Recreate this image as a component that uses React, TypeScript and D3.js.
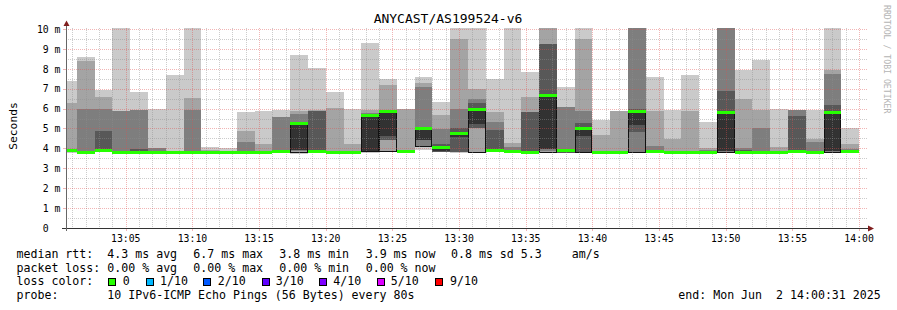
import React from 'react';
import * as d3 from 'd3';

const W = 897;
const H = 310;

// sorted round-trip times of the 10 pings per 80 s step (ms)
const ping1 = [3.78,3.76,3.8,3.72,3.79,3.77,3.77,3.77,3.78,3.78, 3.77,3.77,3.8,3.73,3.8,3.77,3.77,3.78,3.82,3.8, 3.9,3.8,3.75,3.8,3.82,3.8,3.8,3.75,3.76,3.8, 3.77,3.77,3.8,3.8,3.78,3.77,3.77,3.8,3.8,3.77, 3.77,3.8,3.78,3.8,3.8];
const ping2 = [3.8,3.78,3.82,3.78,3.8,3.78,3.78,3.78,3.79,3.79, 3.78,3.78,3.81,3.8,3.81,3.78,3.78,3.85,3.85,3.82, 4.12,3.82,3.83,3.83,3.84,3.81,3.81,3.82,3.77,3.81, 3.78,3.78,3.82,3.81,3.79,3.78,3.78,3.82,3.81,3.78, 3.78,3.81,3.79,3.82,3.81];
const ping3 = [3.85,3.79,3.83,3.79,3.8,3.79,3.78,3.79,3.8,3.8, 3.79,3.79,3.82,3.85,3.82,3.79,3.79,3.86,4.4,3.83, 4.12,3.83,3.83,5.0,3.85,3.82,3.82,3.85,3.78,3.82, 3.79,3.79,3.83,3.82,3.8,3.79,3.79,3.84,3.82,3.79, 3.79,3.82,3.8,3.84,3.82];
const ping4 = [3.86,3.8,3.84,3.8,3.81,3.8,3.79,3.79,3.8,3.8, 3.8,3.79,3.83,3.9,3.83,3.79,3.79,3.87,4.4,3.84, 4.42,3.84,3.83,5.0,3.86,3.83,3.83,3.95,3.79,3.83, 3.79,3.79,4.82,3.83,3.8,3.79,3.79,3.86,3.83,3.79, 3.79,3.83,3.8,3.86,3.83];
const ping5 = [3.87,3.8,3.86,3.81,3.82,3.8,3.79,3.8,3.81,3.81, 3.8,3.8,3.84,3.92,3.85,3.8,3.8,3.87,4.6,3.85, 4.42,3.86,4.55,5.23,3.88,3.84,3.84,3.98,3.8,4.62, 3.8,3.8,5.16,3.84,3.81,3.8,3.8,3.87,3.84,3.8, 3.8,3.84,3.81,3.87,3.84];
const ping6 = [3.9,3.82,3.9,3.82,3.85,3.8,3.8,3.8,3.83,3.83, 3.82,3.8,3.87,5.29,3.88,3.8,3.8,5.68,5.9,3.87, 5.0,4.05,4.77,6.0,3.92,3.86,3.86,6.7,3.9,5.03, 3.8,3.8,5.9,3.86,3.82,3.8,3.8,5.87,3.85,3.8, 3.8,3.86,3.82,5.87,3.88];
const ping7 = [3.9,3.85,4.87,3.84,3.98,3.88,3.8,3.84,3.84,3.84, 3.86,3.81,3.9,5.32,5.9,3.81,3.81,5.72,5.9,3.88, 5.03,4.2,5.05,6.3,4.94,3.9,5.83,9.27,3.95,5.26, 3.81,3.81,5.96,3.9,3.83,3.81,3.81,6.88,3.92,3.81, 3.81,5.63,3.86,6.2,3.92];
const ping8 = [3.9,5.96,5.96,5.88,5.91,4.03,3.8,5.95,3.86,3.84, 4.33,3.84,5.6,5.75,5.9,3.83,3.84,5.8,5.95,3.9, 7.09,4.95,5.96,6.48,5.34,4.08,5.83,9.27,6.1,5.9, 3.82,3.82,10.5,4.12,3.85,3.82,3.9,10.5,4.02,5.03, 3.85,5.93,4.34,7.76,3.98];
const ping9 = [6.3,8.4,6.58,5.88,5.91,4.03,3.82,6.53,3.9,3.86, 4.87,4.24,5.6,5.88,5.92,6.05,4.22,5.93,7.19,5.97, 7.29,5.68,9.5,6.98,5.84,4.25,6.58,10.4,6.1,9.48, 4.66,5.88,10.5,5.9,4.48,5.9,4.0,10.5,6.5,5.95, 4.07,5.93,4.47,7.96,4.23];
const ping10 = [7.4,8.6,6.93,10.4,6.83,5.96,7.7,10.4,4.08,4.04, 5.83,5.88,5.92,8.67,8.03,6.83,5.96,9.3,7.47,5.97, 7.59,6.35,10.4,10.4,7.48,10.4,7.84,10.6,7.09,10.4, 5.44,5.88,10.5,7.58,5.94,7.7,5.35,10.5,7.96,8.46, 5.96,5.93,5.93,10.5,5.0];
const medianRtt = [3.9,3.82,3.9,3.82,3.84,3.8,3.8,3.8,3.83,3.83, 3.8,3.8,3.88,5.29,3.88,3.8,3.8,5.68,5.9,3.88, 5.0,4.05,4.77,6.0,3.9,3.86,3.84,6.7,3.9,5.0, 3.8,3.8,5.9,3.85,3.82,3.8,3.8,5.85,3.84,3.8, 3.8,3.85,3.82,5.85,3.88];

const firstBinStart = new Date(2025, 5, 2, 13, 0, 0);
const stepSeconds = 80;
const viewStart = new Date(2025, 5, 2, 13, 0, 31);
const viewEnd = new Date(2025, 5, 2, 14, 0, 31);
const yMax = 10.05;

const titleText = 'ANYCAST/AS199524-v6';
const yAxisLabel = 'Seconds';
const watermark = 'RRDTOOL / TOBI OETIKER';

const statLabels = ['median rtt:', 'packet loss:', 'loss color:', 'probe:'];
const rttStats = ['4.3 ms avg', '6.7 ms max', '3.8 ms min', '3.9 ms now', '0.8 ms sd', '5.3', 'am/s'];
const lossStats = ['0.00 % avg', '0.00 % max', '0.00 % min', '0.00 % now'];
const lossColorLabels = ['0', '1/10', '2/10', '3/10', '4/10', '5/10', '9/10'];
const lossColors = ['#26ff00', '#00b8ff', '#0059ff', '#5e00ff', '#7e00ff', '#dd00ff', '#ff0000'];
const probeText = '10 IPv6-ICMP Echo Pings (56 Bytes) every 80s';
const endText = 'end: Mon Jun  2 14:00:31 2025';

const MONO = "'DejaVu Sans Mono', monospace";
const nb = (s: string) => s.replace(/ /g, '\u00a0');

export default function App() {
  const pings = [ping1, ping2, ping3, ping4, ping5, ping6, ping7, ping8, ping9, ping10];
  const n = medianRtt.length;
  const half = pings.length / 2;

  const left = 66, right = 866, top = 28, bottom = 228;
  const x = d3.scaleTime().domain([viewStart, viewEnd]).range([left, right]);
  const y = d3.scaleLinear().domain([0, yMax]).range([bottom, top]);

  const binStart = (k: number) => new Date(+firstBinStart + k * stepSeconds * 1000);

  // smoke bands (smokeping style)
  const bands = d3.range(half).map((i) => {
    const g = Math.floor((190 / half) * (half - 1 - i)) + 50;
    const hex = g.toString(16).padStart(2, '0');
    const color = '#' + hex + hex + hex;
    const lo = pings[i];
    const hi = pings[pings.length - 1 - i];
    const pts = d3.range(n + 1).map((k) => {
      const kk = Math.min(k, n - 1);
      return { t: binStart(k), lo: lo[kk], hi: hi[kk] };
    });
    const area = d3
      .area<{ t: Date; lo: number; hi: number }>()
      .x((d) => x(d.t))
      .y0((d) => y(d.lo))
      .y1((d) => y(d.hi))
      .curve(d3.curveStepAfter);
    return { color, d: area(pts) || '' };
  });

  const minuteTicks = x.ticks(d3.timeMinute.every(1) as any) as Date[];
  const majorTicks = x.ticks(d3.timeMinute.every(5) as any) as Date[];
  const majorSet = new Set(majorTicks.map((d) => +d));
  const fmt = d3.timeFormat('%H:%M');

  const hMinor = d3.range(1, 21).map((v) => v * 0.5).filter((v) => v % 1 !== 0 && v <= yMax);
  const hMajor = d3.range(1, 11);
  const yLabels = d3.range(0, 11);

  const px = (v: number) => Math.round(v) + 0.5;

  const outlines: string[] = [];
  for (let k = 0; k < n; k++) {
    if (ping6[k] - ping5[k] > 0.3) {
      const x0 = Math.max(left, x(binStart(k))) + 0.5;
      const x1 = x(binStart(k + 1)) - 0.5;
      const yt = y(medianRtt[k]);
      const yb = Math.round(y(ping2[k])) + 0.5;
      outlines.push(`M${x0},${yt}V${yb}H${x1}V${yt}`);
    }
  }

  const legendY = [258, 271.5, 285, 299];
  const rttX = [107.3, 193.3, 279.3, 365.7, 451, 520.7, 571.7];
  const lossX = [107.3, 193.3, 279.3, 365.7];
  const boxX = [108.5, 146, 203.5, 262, 319.5, 377, 435.5];
  const boxLabelX = [122.7, 160, 217.7, 275.7, 333.3, 390.7, 450];

  const minorStroke = 'rgba(143,143,143,0.45)';
  const majorStroke = 'rgba(222,79,79,0.42)';

  return (
    <svg
      width={W}
      height={H}
      viewBox={`0 0 ${W} ${H}`}
      style={{ position: 'absolute', left: 0, top: 0, background: '#ffffff' }}
    >
      <rect x={0} y={0} width={W} height={H} fill="#ffffff" />
      <defs>
        <clipPath id="plotClip">
          <rect x={left} y={top} width={right - left} height={bottom - top} />
        </clipPath>
      </defs>

      <g clipPath="url(#plotClip)" shapeRendering="crispEdges">
        {bands.map((b, i) => (
          <path key={i} d={b.d} fill={b.color} />
        ))}
        {outlines.map((d, i) => (
          <path key={'o' + i} d={d} fill="none" stroke="#111" strokeWidth={1} />
        ))}
      </g>

      {/* grid */}
      <g shapeRendering="crispEdges">
        {minuteTicks
          .filter((t) => !majorSet.has(+t))
          .map((t, i) => (
            <line key={'vm' + i} x1={px(x(t))} x2={px(x(t))} y1={top} y2={bottom}
              stroke={minorStroke} strokeDasharray="1,1" />
          ))}
        {hMinor.map((v, i) => (
          <line key={'hm' + i} x1={left} x2={right + 2} y1={px(y(v))} y2={px(y(v))}
            stroke={minorStroke} strokeDasharray="1,1" />
        ))}
        {majorTicks.map((t, i) => (
          <line key={'vM' + i} x1={px(x(t))} x2={px(x(t))} y1={top} y2={bottom}
            stroke={majorStroke} strokeDasharray="1,1" />
        ))}
        {hMajor.map((v, i) => (
          <line key={'hM' + i} x1={left} x2={right + 2} y1={px(y(v))} y2={px(y(v))}
            stroke={majorStroke} strokeDasharray="1,1" />
        ))}
        {hMajor.map((v, i) => (
          <line key={'tM' + i} x1={left - 3} x2={left} y1={px(y(v))} y2={px(y(v))}
            stroke={majorStroke} />
        ))}
        {majorTicks.map((t, i) => (
          <line key={'tx' + i} x1={px(x(t))} x2={px(x(t))} y1={bottom} y2={bottom + 3}
            stroke={majorStroke} />
        ))}
      </g>

      {/* median with loss colour */}
      <g clipPath="url(#plotClip)" shapeRendering="crispEdges">
        {medianRtt.map((m, k) => {
          const x0 = x(binStart(k));
          const x1 = x(binStart(k + 1));
          return (
            <rect key={k} x={x0} y={Math.round(y(m)) - 1} width={x1 - x0} height={2.5} fill={lossColors[0]} />
          );
        })}
      </g>

      {/* axes */}
      <g shapeRendering="crispEdges">
        <line x1={left - 4} x2={right + 3} y1={bottom + 0.5} y2={bottom + 0.5} stroke="#333" />
        <line x1={left + 0.5} x2={left + 0.5} y1={bottom + 3} y2={top - 3} stroke="#666" />
      </g>
      <path d={`M${left + 0.5},${20.5}L${left - 2.5},${26}L${left + 3.5},${26}Z`} fill="#801f1f" />
      <path d={`M${874},${bottom + 0.5}L${868},${bottom - 2.5}L${868},${bottom + 3.5}Z`} fill="#801f1f" />

      {/* tick labels */}
      <g fontFamily={MONO} fontSize={9.8} fill="#000">
        {yLabels.map((v) => (
          <text key={'yl' + v} x={60.5} y={y(v) + 3.8} textAnchor="end">
            {nb(v === 0 ? '0  ' : `${v} m`)}
          </text>
        ))}
        {majorTicks.map((t, i) => (
          <text key={'xl' + i} x={x(t)} y={241.5} textAnchor="middle">
            {fmt(t)}
          </text>
        ))}
      </g>

      {/* title, axis label, watermark */}
      <text x={448} y={23} textAnchor="middle" fontFamily={MONO} fontSize={13} fill="#000">
        {titleText}
      </text>
      <text transform={`translate(16.5,${126}) rotate(-90)`} textAnchor="middle" fontFamily={MONO} fontSize={11.3} fill="#000">
        {yAxisLabel}
      </text>
      <text transform={`translate(884,5) rotate(90)`} fontFamily={MONO} fontSize={8.2} fill="#b4b4b4">
        {nb(watermark)}
      </text>

      {/* legend */}
      <g fontFamily={MONO} fontSize={11.6} fill="#000">
        {statLabels.map((s, i) => (
          <text key={'sl' + i} x={16.5} y={legendY[i]}>{nb(s)}</text>
        ))}
        {rttStats.map((s, i) => (
          <text key={'rs' + i} x={rttX[i]} y={legendY[0]}>{nb(s)}</text>
        ))}
        {lossStats.map((s, i) => (
          <text key={'ls' + i} x={lossX[i]} y={legendY[1]}>{nb(s)}</text>
        ))}
        {lossColorLabels.map((s, i) => (
          <text key={'cl' + i} x={boxLabelX[i]} y={legendY[2]}>{nb(s)}</text>
        ))}
        <text x={107.3} y={legendY[3]}>{nb(probeText)}</text>
        <text x={678.3} y={legendY[3]}>{nb(endText)}</text>
      </g>
      <g shapeRendering="crispEdges">
        {lossColors.map((c, i) => (
          <rect key={'lb' + i} x={boxX[i]} y={278.5} width={7} height={7} fill={c} stroke="#000" strokeWidth={1} />
        ))}
      </g>
    </svg>
  );
}
